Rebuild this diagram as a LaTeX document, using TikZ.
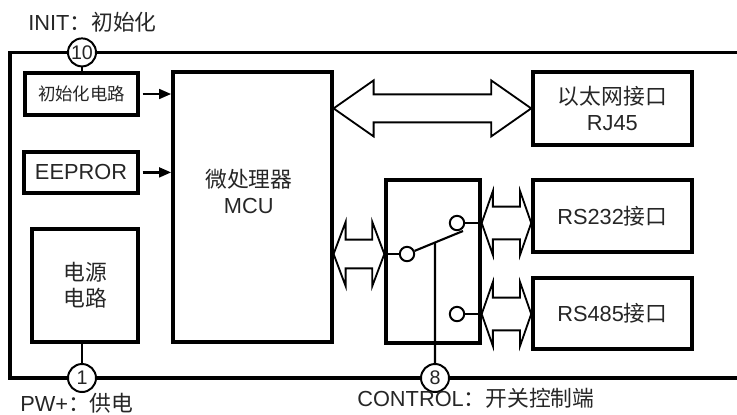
\documentclass[tikz,border=0pt]{standalone}
\usepackage{fontspec}
\setmainfont{Liberation Sans}
\newfontfamily\cjk{Noto Sans CJK SC}
\usetikzlibrary{calc,arrows.meta}

% wide two-headed bus arrow: from, to, head length, half shaft, half head
\newcommand{\busarrow}[5]{%
  \draw[bus] (#1) -- ++(#3,#5) -- ++(0,{#4-#5}) -- ($(#2)+(-#3,#4)$) -- ++(0,{#5-#4}) -- (#2)
    -- ++(-#3,-#5) -- ++(0,{#5-#4}) -- ($(#1)+(#3,-#4)$) -- ++(0,{#4-#5}) -- cycle;}

\begin{document}
\begin{tikzpicture}[every node/.style={font=\fontsize{15.5}{18.5}\selectfont,text=black!85},
  box/.style={draw,line width=2.4pt,inner sep=0pt},
  pin/.style={draw,circle,fill=white,line width=1.4pt,minimum size=0.7cm,inner sep=0pt,font=\fontsize{14}{16}\selectfont},
  contact/.style={draw,circle,fill=white,line width=1.4pt,minimum size=0.36cm,inner sep=0pt},
  bus/.style={line width=1.3pt,line join=miter},
  wire/.style={line width=1.5pt}]
  \useasboundingbox (0,0) rectangle (18.425,-10.35);
  % outer frame, open at the right
  \draw[line width=2.4pt] (18.6,-1.31) -| (0.25,-9.45) -- (18.6,-9.45);
  \node[box,minimum width=2.825cm,minimum height=1.05cm,font=\fontsize{12.4}{15}\selectfont\cjk] (init) at (2.04,-2.35) {初始化电路};
  \node[box,minimum width=2.85cm,minimum height=1.025cm] (eeprom) at (2.025,-4.31) {EEPROR};
  \node[box,minimum width=2.65cm,minimum height=2.825cm,align=center,font=\fontsize{15.5}{18.5}\selectfont\cjk] (power) at (2.125,-7.14) {电源\\电路};
  \node[box,minimum width=3.975cm,minimum height=6.75cm] (mcu) at (6.31,-5.175) {};
  \node[align=center] (mcutext) at (6.22,-4.79) {{\cjk 微处理器}\\MCU};
  \node[box,minimum width=2.35cm,minimum height=4.075cm] (sw) at (10.825,-6.54) {};
  \node[box,minimum width=3.975cm,minimum height=1.825cm,align=center] (eth) at (15.31,-2.71) {{\cjk 以太网接口}\\RJ45};
  \node[box,minimum width=3.975cm,minimum height=1.8cm] (rs232) at (15.31,-5.4) {RS232{\cjk 接口}};
  \node[box,minimum width=3.975cm,minimum height=1.775cm] (rs485) at (15.31,-7.84) {RS485{\cjk 接口}};
  % switch inside the sw box
  \node[contact] (pivot) at (10.175,-6.35) {};
  \node[contact] (c1) at (11.425,-5.575) {};
  \node[contact] (c2) at (11.425,-7.85) {};
  \coordinate (lever) at (11.575,-5.775);
  \coordinate (tap) at ($(pivot)!0.5!(lever)$);
  \draw[wire] (pivot) -- (lever);
  \draw[wire] (sw.west |- pivot) -- (pivot);
  \draw[wire] (c1) -- (c1 -| sw.east);
  \draw[wire] (c2) -- (c2 -| sw.east);
  % pins on the frame
  \node[pin] (pin10) at (2.05,-1.31) {10};
  \node[pin] (pin1) at (2.05,-9.45) {1};
  \node[pin] (pin8) at (10.875,-9.45) {8};
  \draw[wire] (pin10) -- (pin10 |- init.north);
  \draw[wire] (pin1) -- (pin1 |- power.south);
  \draw[wire] (pin8) -- (tap);
  % small arrows into the MCU
  \draw[line width=1.8pt,-{Triangle[length=0.3cm,width=0.24cm]},shorten <=2pt] (init) -- (init -| mcu.west);
  \draw[line width=1.8pt,-{Triangle[length=0.3cm,width=0.24cm]},shorten <=2pt] (eeprom) -- (eeprom -| mcu.west);
  % bus arrows
  \coordinate (b1a) at (mcu.east |- eth.west);
  \coordinate (b2a) at (mcu.east |- pivot);
  \coordinate (b2b) at (sw.west |- pivot);
  \coordinate (b3a) at (sw.east |- c1);
  \coordinate (b3b) at (rs232.west |- c1);
  \coordinate (b4a) at (sw.east |- c2);
  \coordinate (b4b) at (rs485.west |- c2);
  \busarrow{b1a}{eth.west}{1.0}{0.35}{0.7}
  \busarrow{b2a}{b2b}{0.3}{0.36}{0.8}
  \busarrow{b3a}{b3b}{0.28}{0.41}{0.8}
  \busarrow{b4a}{b4b}{0.28}{0.41}{0.8}
  % pin labels
  \node[anchor=west,inner sep=0pt] (initlbl) at (0.7,-0.55) {INIT{\cjk ：初始化}};
  \node[anchor=west,inner sep=0pt] (pwlbl) at (0.5,-10.07) {PW+{\cjk ：供电}};
  \node[anchor=west,inner sep=0pt] (ctllbl) at (8.925,-9.95) {CONTROL{\cjk ：开关控制端}};
\end{tikzpicture}
\end{document}
